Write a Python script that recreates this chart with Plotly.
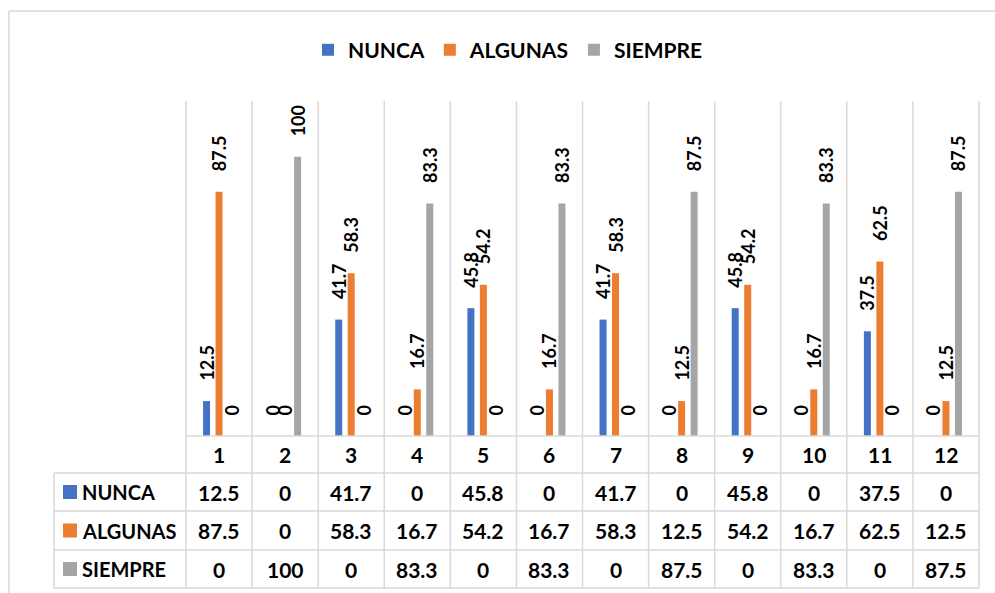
import plotly.graph_objects as go

# Survey answers per item (percent)
categories = list(range(1, 13))
series_names = ["NUNCA", "ALGUNAS", "SIEMPRE"]
nunca = [12.5, 0, 41.7, 0, 45.8, 0, 41.7, 0, 45.8, 0, 37.5, 0]
algunas = [87.5, 0, 58.3, 16.7, 54.2, 16.7, 58.3, 12.5, 54.2, 16.7, 62.5, 12.5]
siempre = [0, 100, 0, 83.3, 0, 83.3, 0, 87.5, 0, 83.3, 0, 87.5]
series_values = [nunca, algunas, siempre]
colors = ["#4472C4", "#ED7D31", "#A5A5A5"]

FONT = "Lato"
WEIGHT = "bold"
GRID = "#D9D9D9"

# Page geometry (pixels)
W, H = 995, 593
ML, MR, MT, MB = 186, 16, 101, 157
PW, PH = W - ML - MR, H - MT - MB


def px(x):
    """page x pixel -> paper x"""
    return (x - ML) / PW


def py(y):
    """page y pixel -> paper y"""
    return (H - MB - y) / PH


# Data table rows (page pixel edges): header, then one row per series
HEADER_TOP, HEADER_BOT = 436, 473
ROW_EDGES = [473, 511, 550, 588]
TABLE_LEFT = 54

fig = go.Figure()
for name, vals, col in zip(series_names, series_values, colors):
    fig.add_trace(go.Bar(
        x=categories, y=vals, name=name, marker=dict(color=col, line=dict(width=0)),
        texttemplate="\u00a0\u00a0\u00a0\u00a0%{y}", textposition="outside", textangle=-90,
        textfont=dict(family=FONT, size=18, weight=WEIGHT, color="black"),
        constraintext="none", cliponaxis=False, hoverinfo="x+y+name",
    ))

shapes = []
n = len(categories)
# vertical column lines through plot and table
for k in range(n + 1):
    shapes.append(dict(type="line", xref="paper", yref="paper", x0=k / n, x1=k / n,
                       y0=py(ROW_EDGES[-1]), y1=1, line=dict(color=GRID, width=1.5)))
# baseline / header bottom
shapes.append(dict(type="line", xref="paper", yref="paper", x0=0, x1=1,
                   y0=py(HEADER_TOP), y1=py(HEADER_TOP), line=dict(color=GRID, width=1.5)))
for yy in ROW_EDGES:
    shapes.append(dict(type="line", xref="paper", yref="paper", x0=px(TABLE_LEFT), x1=1,
                       y0=py(yy), y1=py(yy), line=dict(color=GRID, width=1.5)))
shapes.append(dict(type="line", xref="paper", yref="paper", x0=px(TABLE_LEFT), x1=px(TABLE_LEFT),
                   y0=py(ROW_EDGES[-1]), y1=py(ROW_EDGES[0]), line=dict(color=GRID, width=1.5)))
# chart frame (top and left edges)
shapes.append(dict(type="line", xref="paper", yref="paper", x0=px(9), x1=px(W + 5),
                   y0=py(11), y1=py(11), line=dict(color=GRID, width=1.5)))
shapes.append(dict(type="line", xref="paper", yref="paper", x0=px(9), x1=px(9),
                   y0=py(11), y1=py(H + 5), line=dict(color=GRID, width=1.5)))

cell_font = dict(family=FONT, size=21, weight=WEIGHT, color="black")
name_font = dict(family=FONT, size=20, weight=WEIGHT, color="black")
annotations = []
# header row: category numbers
for c in categories:
    annotations.append(dict(x=c, xref="x", y=py((HEADER_TOP + HEADER_BOT) / 2), yref="paper",
                            text=str(c), showarrow=False, xanchor="center", yanchor="middle",
                            font=cell_font))
# series rows
for i, (name, vals, col) in enumerate(zip(series_names, series_values, colors)):
    yc = (ROW_EDGES[i] + ROW_EDGES[i + 1]) / 2
    shapes.append(dict(type="rect", xref="paper", yref="paper", x0=px(63), x1=px(77),
                       y0=py(yc + 7), y1=py(yc - 7), fillcolor=col, line=dict(width=0)))
    annotations.append(dict(x=px(80), xref="paper", y=py(yc), yref="paper", text=name,
                            showarrow=False, xanchor="left", yanchor="middle", font=name_font))
    for c, v in zip(categories, vals):
        annotations.append(dict(x=c, xref="x", y=py(yc), yref="paper", text=f"{v:g}",
                                showarrow=False, xanchor="center", yanchor="middle",
                                font=cell_font))

fig.update_layout(
    width=W, height=H, margin=dict(l=ML, r=MR, t=MT, b=MB),
    paper_bgcolor="white", plot_bgcolor="white",
    barmode="group", bargap=0.433, bargroupgap=0.44,
    xaxis=dict(range=[0.5, n + 0.5], showticklabels=False, showgrid=False, zeroline=False,
               showline=False, ticks=""),
    yaxis=dict(range=[0, 120], visible=False),
    showlegend=True,
    legend=dict(orientation="h", x=px(508), xanchor="center", y=py(50), yanchor="middle",
                xref="paper", yref="paper", itemwidth=30,
                font=dict(family=FONT, size=21, weight=WEIGHT, color="black")),
    shapes=shapes, annotations=annotations,
)

fig.write_html("out.html")
